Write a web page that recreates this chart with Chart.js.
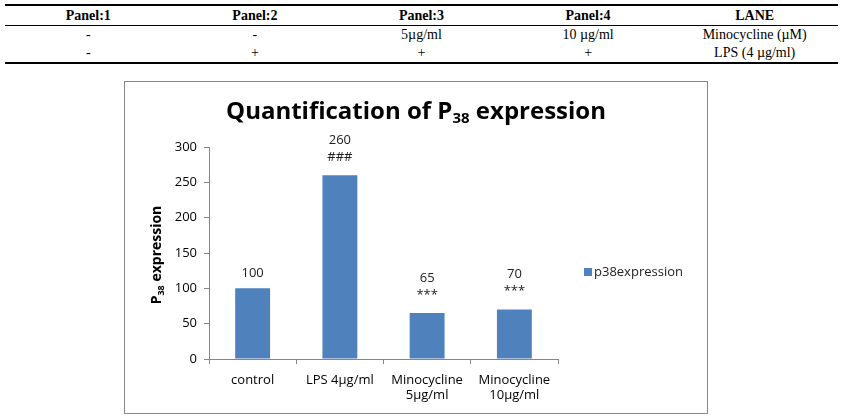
<!DOCTYPE html>
<html>
<head>
<meta charset="utf-8">
<script src="https://cdn.jsdelivr.net/npm/chart.js@4.4.0/dist/chart.umd.min.js"></script>
<style>
    body { margin: 0; background: #fff; width: 852px; height: 418px; position: relative; overflow: hidden; }
    table.lanes {
        position: absolute; left: 5px; top: 4px; width: 833px;
        border-collapse: collapse; table-layout: fixed;
        font-family: "Liberation Serif", serif; font-size: 14px; color: #000;
        border-top: 2px solid #000; border-bottom: 2px solid #000;
    }
    table.lanes td, table.lanes th { text-align: center; padding: 0; height: 18px; line-height: 18px; color: #000; }
    table.lanes th { height: 19px; border-bottom: 1px solid #000; }
    .box {
        position: absolute; left: 124px; top: 81px; width: 582px; height: 331px;
        border: 1px solid #868686;
    }
</style>
</head>
<body>
<table class="lanes">
    <tr><th>Panel:1</th><th>Panel:2</th><th>Panel:3</th><th>Panel:4</th><th>LANE</th></tr>
    <tr><td>-</td><td>-</td><td>5µg/ml</td><td>10 µg/ml</td><td>Minocycline (µM)</td></tr>
    <tr><td>-</td><td>+</td><td>+</td><td>+</td><td>LPS (4 µg/ml)</td></tr>
</table>
<div class="box"><canvas id="p38Chart" width="582" height="331"></canvas></div>
<script>
// data
const categories = [["control"], ["LPS 4µg/ml"], ["Minocycline", "5µg/ml"], ["Minocycline", "10µg/ml"]];
const p38Values = [100, 260, 65, 70];
const significance = ["", "###", "***", "***"];
const seriesName = "p38expression";
const yMin = 0, yMax = 300, yStep = 50;

const barColor = "#4f81bd";
const axisColor = "#868686";
const font = "'Open Sans', sans-serif";

Chart.defaults.font.family = font;
Chart.defaults.color = "#000";

// draws title, y title (with subscripts), value labels and the legend
const decorations = {
    id: "decorations",
    afterDraw(chart) {
        const ctx = chart.ctx;
        ctx.save();
        ctx.fillStyle = "#000";

        // title
        const parts = [["Quantification of P", "bold 24px " + font, 0], ["38", "bold 15px " + font, 7], [" expression", "bold 24px " + font, 0]];
        let total = 0;
        parts.forEach((p) => { ctx.font = p[1]; total += ctx.measureText(p[0]).width; });
        let x = chart.width / 2 - total / 2;
        ctx.textBaseline = "middle";
        ctx.textAlign = "left";
        parts.forEach((p) => {
            ctx.font = p[1];
            ctx.fillText(p[0], x, 30 + p[2]);
            x += ctx.measureText(p[0]).width;
        });

        // y axis title, rotated
        const yParts = [["P", "bold 14px " + font, 0], ["38", "bold 9px " + font, 4], [" expression", "bold 14px " + font, 0]];
        total = 0;
        yParts.forEach((p) => { ctx.font = p[1]; total += ctx.measureText(p[0]).width; });
        ctx.save();
        ctx.translate(32, 173);
        ctx.rotate(-Math.PI / 2);
        x = -total / 2;
        yParts.forEach((p) => {
            ctx.font = p[1];
            ctx.fillText(p[0], x, p[2]);
            x += ctx.measureText(p[0]).width;
        });
        ctx.restore();

        // value labels over bars
        const meta = chart.getDatasetMeta(0);
        ctx.textAlign = "center";
        ctx.font = "13px " + font;
        ctx.fillStyle = "#222";
        meta.data.forEach((bar, i) => {
            if (significance[i]) {
                ctx.fillText(String(p38Values[i]), bar.x, bar.y - 35);
                ctx.fillText(significance[i], bar.x, bar.y - 18);
            } else {
                ctx.fillText(String(p38Values[i]), bar.x, bar.y - 15);
            }
        });

        // legend
        ctx.fillStyle = barColor;
        ctx.fillRect(459, 186, 8, 8);
        ctx.fillStyle = "#222";
        ctx.textAlign = "left";
        ctx.font = "13px " + font;
        ctx.fillText(seriesName, 469, 190);
        ctx.restore();
    },
};

const ctx = document.getElementById("p38Chart").getContext("2d");
const p38Chart = new Chart(ctx, {
    type: "bar",
    data: {
        labels: categories,
        datasets: [
            {
                label: seriesName,
                data: p38Values,
                backgroundColor: barColor,
                categoryPercentage: 0.8,
                barPercentage: 0.5,
            },
        ],
    },
    plugins: [decorations],
    options: {
        responsive: false,
        animation: false,
        layout: { padding: { left: 0, top: 65, right: 149, bottom: 0 } },
        plugins: {
            legend: { display: false },
            tooltip: { enabled: false },
        },
        scales: {
            x: {
                offset: true,
                grid: { offset: true, drawOnChartArea: false, tickLength: 5, color: axisColor },
                border: { color: axisColor },
                ticks: { font: { size: 13 }, padding: 8, maxRotation: 0 },
                afterFit: (scale) => { scale.height = 54; },
            },
            y: {
                min: yMin,
                max: yMax,
                grid: { drawOnChartArea: false, tickLength: 5, color: axisColor },
                border: { color: axisColor },
                ticks: { stepSize: yStep, font: { size: 13 }, padding: 7 },
                afterFit: (scale) => { scale.width = 84; },
            },
        },
    },
});
</script>
</body>
</html>
